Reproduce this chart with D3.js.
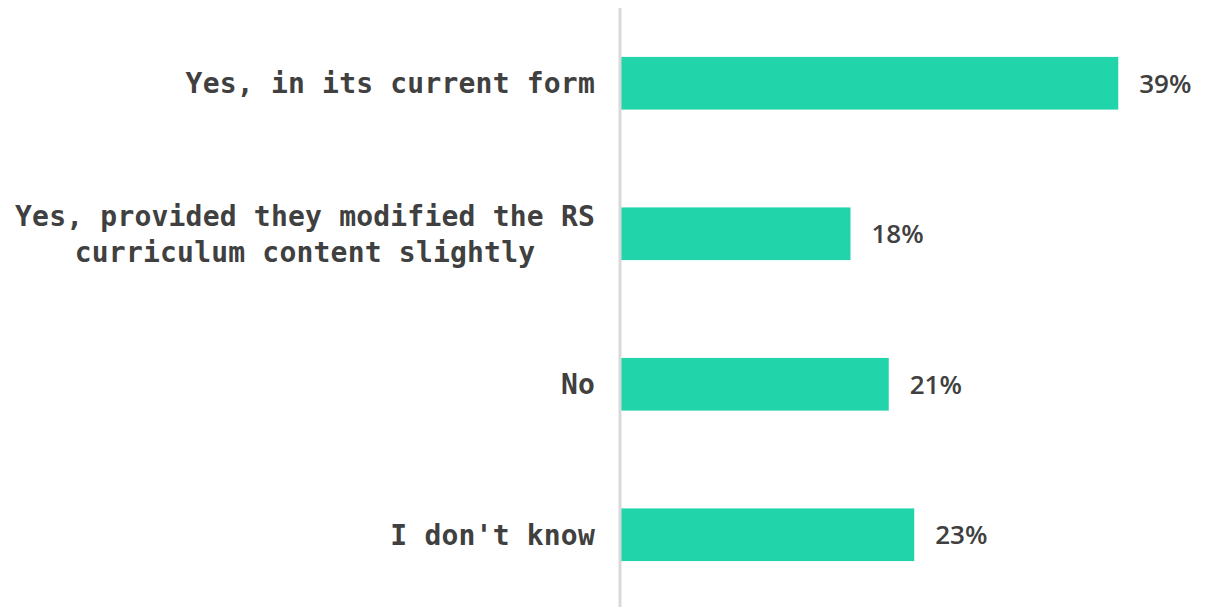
<html>
  <script src="https://d3js.org/d3.v7.min.js"></script>
  <style>
    body {
      margin: 0;
      background: white;
    }
    .cat {
      fill: #404040;
      font-family: "DejaVu Sans Mono", monospace;
      font-weight: bold;
      font-size: 28px;
      letter-spacing: 0.2px;
    }
    .val {
      fill: #404040;
      font-family: "Open Sans", sans-serif;
      font-weight: 600;
      font-size: 26px;
    }
  </style>
  <body>
    <svg width="1205" height="607"></svg>
    <script>
      // answers, top to bottom ("\n" = line break in label)
      var categories = [
        "Yes, in its current form",
        "Yes, provided they modified the RS\ncurriculum content slightly",
        "No",
        "I don't know",
      ];
      var values = [39, 18, 21, 23];

      var width = 1205;
      var height = 607;
      var axisX = 620;

      var data = categories.map(function (c, i) {
        return { cat: c, value: values[i] };
      });

      var svg = d3.select("svg");

      var y = d3
        .scaleBand()
        .domain(categories)
        .range([8, 610])
        .paddingInner(0.65)
        .paddingOuter(0.325);

      var x = d3.scaleLinear().domain([0, 40]).range([axisX + 1, axisX + 1 + 510]);

      svg
        .selectAll("rect")
        .data(data)
        .enter()
        .append("rect")
        .attr("x", x(0))
        .attr("y", function (d) {
          return y(d.cat);
        })
        .attr("width", function (d) {
          return x(d.value) - x(0);
        })
        .attr("height", y.bandwidth())
        .attr("fill", "#21d4aa");

      // vertical axis line
      svg
        .append("line")
        .attr("x1", axisX)
        .attr("x2", axisX)
        .attr("y1", 8)
        .attr("y2", height)
        .attr("stroke", "#d9d9d9")
        .attr("stroke-width", 3);

      // category labels, multi-line ones centred on each other
      var labelRight = 595;
      var lineH = 36;
      svg
        .selectAll(".cat")
        .data(data)
        .enter()
        .append("text")
        .attr("class", "cat")
        .each(function (d) {
          var lines = d.cat.split("\n");
          var t = d3.select(this);
          var cy = y(d.cat) + y.bandwidth() / 2;
          var y0 = cy - ((lines.length - 1) * lineH) / 2;
          if (lines.length == 1) {
            t.attr("text-anchor", "end")
              .attr("x", labelRight)
              .attr("y", cy)
              .attr("dy", "0.36em")
              .text(lines[0]);
            return;
          }
          // measure widest line, centre others within it
          t.attr("text-anchor", "middle");
          var tmp = svg.append("text").attr("class", "cat").text(lines[0]);
          var maxW = 0;
          lines.forEach(function (l) {
            tmp.text(l);
            maxW = Math.max(maxW, tmp.node().getComputedTextLength());
          });
          tmp.remove();
          lines.forEach(function (l, i) {
            t.append("tspan")
              .attr("x", labelRight - maxW / 2)
              .attr("y", y0 + i * lineH)
              .attr("dy", "0.36em")
              .text(l);
          });
        });

      // value labels
      svg
        .selectAll(".val")
        .data(data)
        .enter()
        .append("text")
        .attr("class", "val")
        .attr("x", function (d) {
          return x(d.value) + 21;
        })
        .attr("y", function (d) {
          return y(d.cat) + y.bandwidth() / 2;
        })
        .attr("dy", "0.36em")
        .text(function (d) {
          return d.value + "%";
        });
    </script>
  </body>
</html>
